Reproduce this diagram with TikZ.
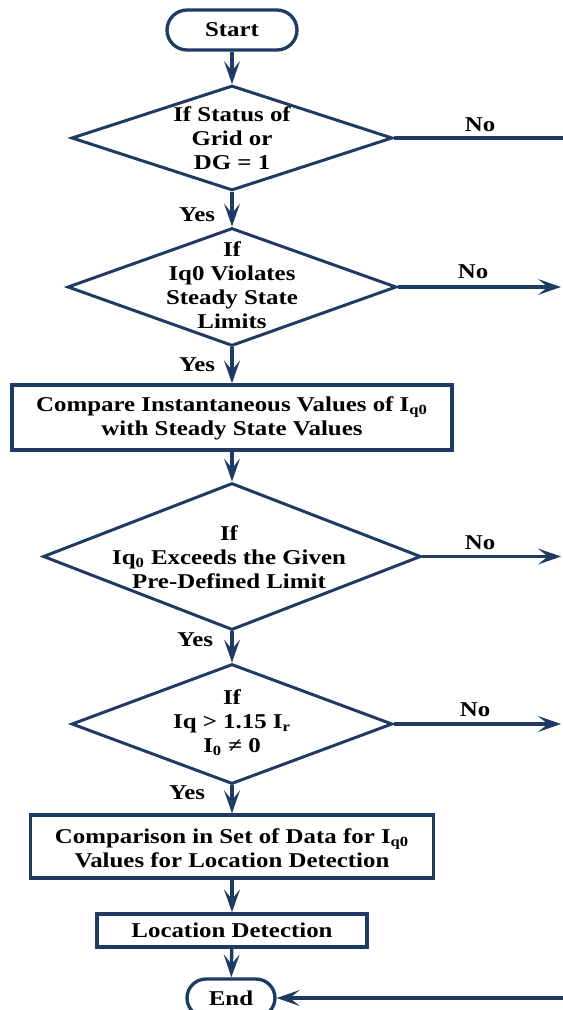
\documentclass[tikz,border=0pt]{standalone}
\usepackage{fontspec}
\setmainfont{Liberation Serif}[FakeStretch=1.18]
\usetikzlibrary{shapes.geometric,shapes.misc,arrows.meta}
\definecolor{navy}{HTML}{1F3B63}
\tikzset{
  flow/.style={draw=navy, line width=1.9pt},
  term/.style={flow, rounded rectangle, inner sep=0pt},
  dec/.style={draw=navy, line width=1.7pt, diamond, inner sep=0pt},
  proc/.style={flow, rectangle, inner sep=0pt},
  txt/.style={align=center, inner sep=0pt, font=\fontsize{12}{13.6}\selectfont\bfseries},
  link/.style={draw=navy, line width=1.9pt, -{Stealth[length=13pt,width=9pt,inset=5.5pt]}},
  plain/.style={draw=navy, line width=1.9pt}
}
\begin{document}
\begin{tikzpicture}[x=0.02cm,y=-0.02cm]
\useasboundingbox (0,0) rectangle (563,1010);
\clip (0,0) rectangle (563,1010);

% terminals, decisions and processes
\node[term, minimum width=2.6cm, minimum height=0.8cm] (start) at (232,30) {};
\node[txt] (tstart) at (start) {Start};

\node[dec, minimum width=6.42cm, minimum height=2.1cm] (d1) at (232,138) {};
\node[txt] (td1) at (232,138) {If Status of\\Grid or\\DG = 1};

\node[dec, minimum width=6.58cm, minimum height=2.36cm] (d2) at (232,287) {};
\node[txt] (td2) at (232,285) {If\\Iq0 Violates\\Steady State\\Limits};

\node[proc, minimum width=8.8cm, minimum height=1.3cm] (b1) at (232,417.5) {};
\node[txt] (tb1) at (232,418) {Compare Instantaneous Values of I\textsubscript{q0}\\with Steady State Values};

\node[dec, minimum width=7.56cm, minimum height=2.94cm] (d3) at (232,556.5) {};
\node[txt] (td3) at (229,557) {If\\Iq\textsubscript{0} Exceeds the Given\\Pre-Defined Limit};

\node[dec, minimum width=6.42cm, minimum height=2.4cm] (d4) at (232,724) {};
\node[txt] (td4) at (232,723) {If\\Iq > 1.15 I\textsubscript{r}\\I\textsubscript{0} ≠ 0};

\node[proc, minimum width=8.06cm, minimum height=1.26cm] (b2) at (232,846.5) {};
\node[txt] (tb2) at (232,848) {Comparison in Set of Data for I\textsubscript{q0}\\Values for Location Detection};

\node[proc, minimum width=5.4cm, minimum height=0.66cm] (b3) at (232,930.5) {};
\node[txt] (tb3) at (b3) {Location Detection};

\node[term, minimum width=1.76cm, minimum height=0.76cm] (end) at (231,998) {};
\node[txt] (tend) at (end) {End};

% main flow
\draw[link] (start) -- (d1);
\draw[link] (d1) -- (d2);
\draw[link] (d2) -- (b1);
\draw[link] (b1) -- (d3);
\draw[link] (d3) -- (d4);
\draw[link] (d4) -- (b2);
\draw[link] (b2) -- (b3);
\draw[link] (b3) -- (end);

% branch labels
\node[txt] (y1) at (197,215) {Yes};
\node[txt] (y2) at (197,365) {Yes};
\node[txt] (y3) at (195,640) {Yes};
\node[txt] (y4) at (187,793) {Yes};
\node[txt] (n1) at (480,125) {No};
\node[txt] (n2) at (473,272) {No};
\node[txt] (n3) at (480,543) {No};
\node[txt] (n4) at (475,710) {No};

% "No" exits to the right-hand return line
\coordinate (r1) at (564,138);
\coordinate (r2) at (561,287);
\coordinate (r3) at (561,556.5);
\coordinate (r4) at (561,724);
\coordinate (r5) at (564,998);
\draw[plain] (d1.east) -- (r1);
\draw[link] (d2.east) -- (r2);
\draw[link] (d3.east) -- (r3);
\draw[link] (d4.east) -- (r4);
\draw[link] (r5) -- (end.east);
\end{tikzpicture}
\end{document}
